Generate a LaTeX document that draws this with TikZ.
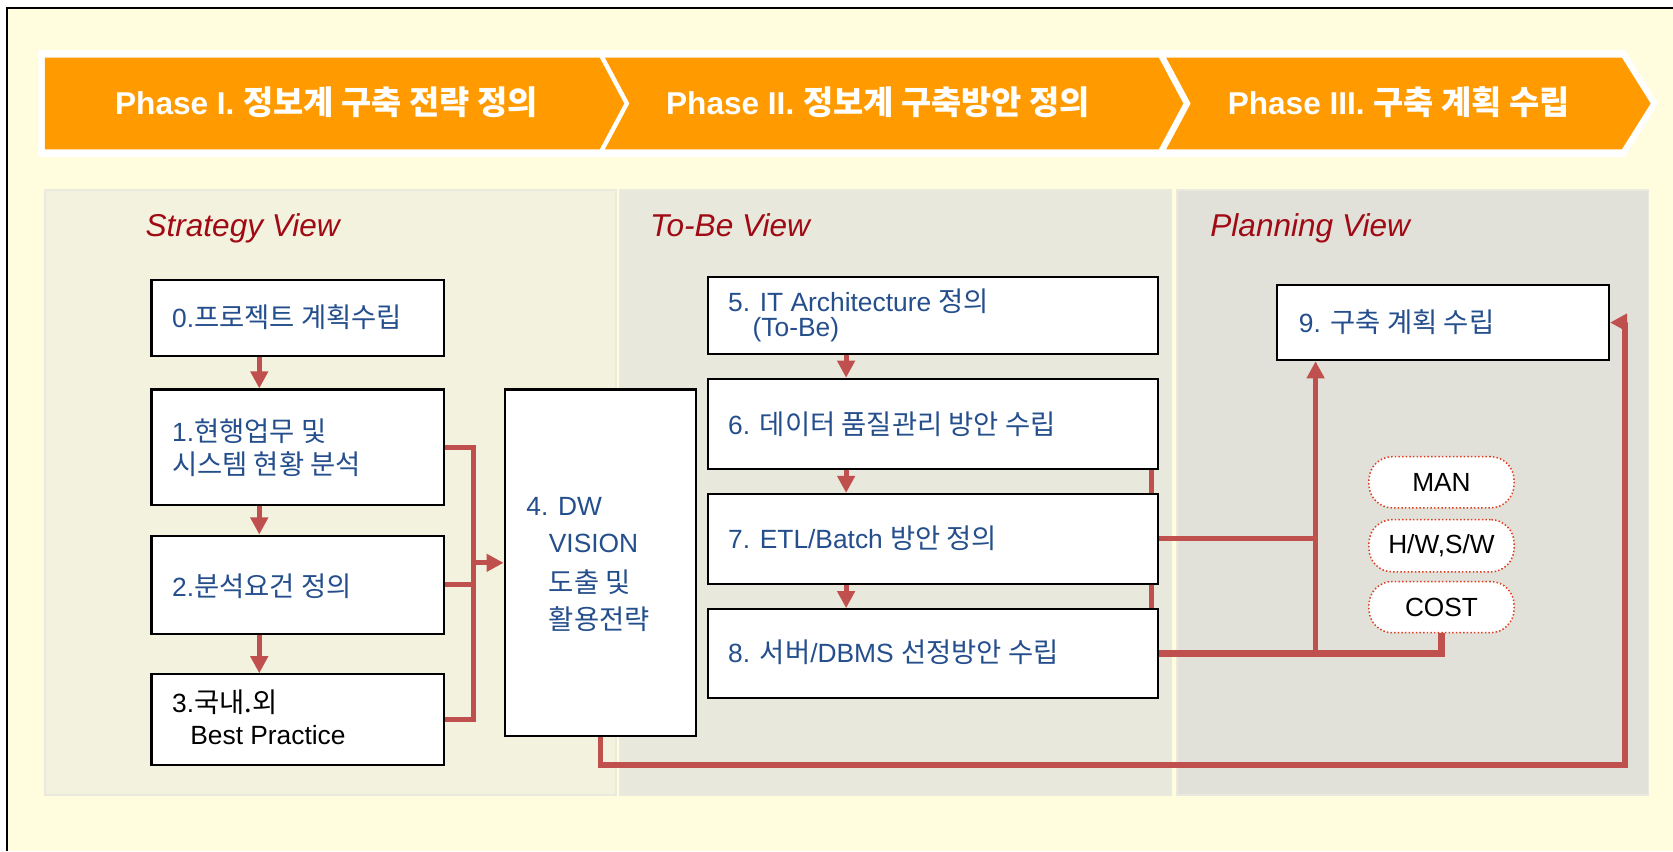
\documentclass[tikz,border=0pt]{standalone}
\usepackage{fontspec}
\setmainfont{Liberation Sans}
\newfontfamily\krf[Scale=1.04]{Noto Sans CJK KR}
\newfontfamily\krp[Scale=1.04]{Noto Sans CJK KR}
\usetikzlibrary{arrows.meta,calc}
\definecolor{bgy}{RGB}{255,253,221}
\definecolor{orng}{RGB}{255,155,0}
\definecolor{pS}{RGB}{243,242,222}
\definecolor{pT}{RGB}{232,232,220}
\definecolor{pP}{RGB}{225,225,218}
\definecolor{pedge}{RGB}{234,233,222}
\definecolor{cred}{RGB}{192,80,77}
\definecolor{tblue}{RGB}{36,78,140}
\definecolor{tred}{RGB}{160,10,20}
\definecolor{dotred}{RGB}{225,60,30}
\newcommand\kk[1]{{\krf #1}}
\newcommand\kp[1]{{\krp #1}}
\begin{document}
\begin{tikzpicture}[x=0.5pt,y=-0.5pt,
  box/.style={draw=black,line width=1pt,fill=white,inner sep=0pt},
  txt/.style={anchor=base west,inner sep=0pt,text=tblue,font=\fontsize{12.35pt}{14pt}\selectfont},
  ttl/.style={anchor=base west,inner sep=0pt,text=tred,font=\fontsize{14.8pt}{17pt}\selectfont\itshape},
  ph/.style={anchor=base,inner sep=0pt,text=white,font=\fontsize{14.8pt}{17pt}\selectfont\bfseries},
  pill/.style={draw=dotred,densely dotted,line width=0.7pt,fill=white,rounded corners=11pt,inner sep=0pt,minimum width=68pt,font=\fontsize{12.3pt}{14pt}\selectfont},
  conn/.style={draw=cred,line width=2.4pt},
  arr/.style={-{Triangle[length=8pt,width=8pt]}}]
\useasboundingbox (0,0) rectangle (1568,797.6);
% background
\fill[bgy] (0,0) rectangle (1568,797.6);
\fill[white] (0,0) rectangle (1568,7);
\fill[white] (0,0) rectangle (6,797.6);
\draw[black,line width=1.2pt] (6.6,797.6) -- (6.6,7.6) -- (1568,7.6);
% phase bar
\fill[white] (36,47) -- (1523,47) -- (1554,97) -- (1523,147) -- (36,147) -- cycle;
\fill[orng] (42,54) -- (562,54) -- (585,97) -- (562,140) -- (42,140) -- cycle;
\fill[orng] (567,54) -- (1086,54) -- (1109,97) -- (1086,140) -- (567,140) -- (590,97) -- cycle;
\fill[orng] (1093,54) -- (1520,54) -- (1547,97) -- (1520,140) -- (1093,140) -- (1116,97) -- cycle;
\node[ph] (ph1) at (306,107) {Phase I. \kp{정보계 구축 전략 정의}};
\node[ph] (ph2) at (823,107) {Phase II. \kp{정보계 구축방안 정의}};
\node[ph] (ph3) at (1311,107) {Phase III. \kp{구축 계획 수립}};
% panels
\filldraw[fill=pS,draw=pedge,line width=0.8pt] (42,178) rectangle (577,745);
\filldraw[fill=pT,draw=pedge,line width=0.8pt] (581,178) rectangle (1098,745);
\filldraw[fill=pP,draw=pedge,line width=0.8pt] (1103,178) rectangle (1545,745);
\node[ttl] (ts) at (136,222) {Strategy View};
\node[ttl] (tt) at (609,222) {To-Be View};
\node[ttl] (tp) at (1134,222) {Planning View};
% boxes
\node[box,minimum width=137pt,minimum height=35.75pt] (B0) at (279,297.8) {};
\node[box,minimum width=137pt,minimum height=54.25pt] (B1) at (279,419.3) {};
\node[box,minimum width=137pt,minimum height=46pt] (B2) at (279,548) {};
\node[box,minimum width=137pt,minimum height=42.5pt] (B3) at (279,674.5) {};
\node[box,minimum width=89.5pt,minimum height=162.5pt] (B4) at (562.5,527.5) {};
\node[box,minimum width=210.75pt,minimum height=36pt] (B5) at (874.3,296) {};
\node[box,minimum width=210.75pt,minimum height=42.25pt] (B6) at (874.3,397.3) {};
\node[box,minimum width=210.75pt,minimum height=42pt] (B7) at (874.3,505) {};
\node[box,minimum width=210.75pt,minimum height=41.5pt] (B8) at (874.3,612.5) {};
\node[box,minimum width=155.5pt,minimum height=35.25pt] (B9) at (1352.5,302.3) {};
\node[pill,minimum height=24pt] (MAN) at (1351,452) {MAN};
\node[pill,minimum height=24.5pt] (HW) at (1351,511.5) {H/W,S/W};
\node[pill,minimum height=24pt] (COST) at (1351,569) {COST};
% box texts
\node[txt] (t0) at (161,307) {0.\kk{프로젝트 계획수립}};
\node[txt] (t1a) at (161,414) {1.\kk{현행업무 및}};
\node[txt] (t1b) at (161,445) {\kk{시스템 현황 분석}};
\node[txt] (t2) at (161,559) {2.\kk{분석요건 정의}};
\node[txt,text=black] (t3a) at (161,668) {3.\kk{국내.외}};
\node[txt,text=black] (t3b) at (178,698) {Best Practice};
\node[txt] (t4a) at (493,483) {4. DW};
\node[txt] (t4b) at (514,518) {VISION};
\node[txt] (t4c) at (514,555) {\kk{도출 및}};
\node[txt] (t4d) at (514,590) {\kk{활용전략}};
\node[txt] (t5a) at (682,292) {5. IT Architecture \kk{정의}};
\node[txt] (t5b) at (705,315) {(To-Be)};
\node[txt] (t6) at (682,407) {6. \kk{데이터 품질관리 방안 수립}};
\node[txt] (t7) at (682,514) {7. ETL/Batch \kk{방안 정의}};
\node[txt] (t8) at (682,621) {8. \kk{서버}/DBMS \kk{선정방안 수립}};
\node[txt] (t9) at (1217,312) {9. \kk{구축 계획 수립}};
% connectors
\coordinate (ax) at (243,0);
\coordinate (bx) at (444,0);
\coordinate (lr) at (1523,717);
\coordinate (vx) at (1079,0);
\coordinate (rx) at (1233,0);
\coordinate (cx) at (793,0);
\draw[conn,arr] (B0.south -| ax) -- (B1.north -| ax);
\draw[conn,arr] (B1.south -| ax) -- (B2.north -| ax);
\draw[conn,arr] (B2.south -| ax) -- (B3.north -| ax);
\draw[conn] (B1.east) -| (bx |- B3.east) -- (B3.east);
\draw[conn] (B2.east) -- (bx |- B2.east);
\draw[conn,arr] (bx |- B4.west) -- (B4.west);
\draw[conn,arr] (B4.south) |- (lr) -- (lr |- B9.east) -- (B9.east);
\draw[conn,arr] (B5.south -| cx) -- (B6.north -| cx);
\draw[conn,arr] (B6.south -| cx) -- (B7.north -| cx);
\draw[conn,arr] (B7.south -| cx) -- (B8.north -| cx);
\draw[conn] (B6.south -| vx) -- (B7.north -| vx);
\draw[conn] (B7.south -| vx) -- (B8.north -| vx);
\draw[conn] (B7.east) -- (rx |- B7.east);
\draw[conn,line width=3.2pt] (B8.east) -| (COST.south);
\draw[conn,arr] (rx |- B8.east) -- (B9.south -| rx);
\end{tikzpicture}
\end{document}
